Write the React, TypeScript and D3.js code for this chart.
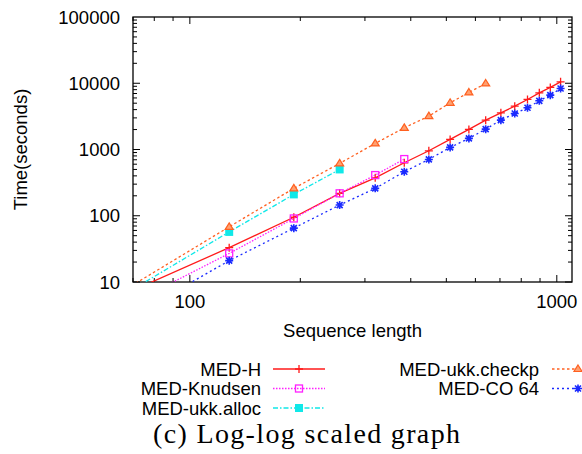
import React, { useEffect, useRef } from "react";
import * as d3 from "d3";

// sequence lengths (64 lies left of the axis and is clipped, as in the original)
const lengths = [64, 128, 192, 256, 320, 384, 448, 512, 576, 640, 704, 768, 832, 896, 960, 1024];
const medH = [6, 33, 95, 218, 374, 631, 956, 1420, 2010, 2775, 3580, 4515, 5690, 7165, 8650, 10500];
const medKnudsen = [3.8, 27, 91, 218, 411, 717];
const medUkkAlloc = [5.8, 57, 210, 500];
const medUkkCheckp = [6.7, 68, 259, 617, 1236, 2125, 3190, 5070, 7260, 9930];
const medCO64 = [2.35, 21, 65, 145, 259, 461, 708, 1075, 1470, 2030, 2775, 3500, 4260, 5430, 6610, 8340];

const yTicks = [10, 100, 1000, 10000, 100000];
const xTicks = [100, 1000];

const series = [
  { name: "MED-H", values: medH, color: "#ff1a1a", dash: null, marker: "plus", col: 0, row: 0 },
  { name: "MED-Knudsen", values: medKnudsen, color: "#ff20ff", dash: "1.5,1.5", marker: "square", col: 0, row: 1 },
  { name: "MED-ukk.alloc", values: medUkkAlloc, color: "#10e8e8", dash: "5,2,1.5,2", marker: "fsquare", col: 0, row: 2 },
  { name: "MED-ukk.checkp", values: medUkkCheckp, color: "#ff6020", dash: "2.5,2.5", marker: "triangle", col: 1, row: 0 },
  { name: "MED-CO 64", values: medCO64, color: "#1a2aff", dash: "2,3", marker: "star", col: 1, row: 1 },
];

const W = 582, H = 454;
const left = 133, right = 572, top = 17, bottom = 282;

function drawMarker(g, kind, x, y, color) {
  if (kind === "plus") {
    g.append("path").attr("d", `M${x - 4},${y}H${x + 4}M${x},${y - 4}V${y + 4}`)
      .attr("stroke", color).attr("stroke-width", 1.3);
  } else if (kind === "square") {
    g.append("rect").attr("x", x - 3.5).attr("y", y - 3.5).attr("width", 7).attr("height", 7)
      .attr("fill", "none").attr("stroke", color).attr("stroke-width", 1.3);
  } else if (kind === "fsquare") {
    g.append("rect").attr("x", x - 4).attr("y", y - 4).attr("width", 8).attr("height", 8)
      .attr("fill", color);
  } else if (kind === "triangle") {
    g.append("path").attr("d", `M${x},${y - 4}L${x + 4},${y + 2.5}L${x - 4},${y + 2.5}Z`)
      .attr("fill", "#ffa070").attr("stroke", color).attr("stroke-width", 1.2);
  } else if (kind === "star") {
    g.append("path")
      .attr("d", `M${x - 4},${y}H${x + 4}M${x},${y - 4}V${y + 4}M${x - 3},${y - 3}L${x + 3},${y + 3}M${x - 3},${y + 3}L${x + 3},${y - 3}`)
      .attr("stroke", color).attr("stroke-width", 1.6);
  }
}

export default function App() {
  const svgRef = useRef(null);

  useEffect(() => {
    const svg = d3.select(svgRef.current);
    svg.selectAll("*").remove();
    const font = "'Liberation Sans', Arial, Helvetica, sans-serif";

    const x = d3.scaleLog().domain([70, 1100]).range([left, right]);
    const y = d3.scaleLog().domain([10, 100000]).range([bottom, top]);

    svg.append("defs").append("clipPath").attr("id", "plotclip")
      .append("rect").attr("x", left).attr("y", top).attr("width", right - left).attr("height", bottom - top);

    const axes = svg.append("g").attr("stroke", "#000").attr("stroke-width", 1);

    // y ticks (major + minor) on both sides
    for (let d = 10; d < 100000; d *= 10) {
      for (let k = 1; k < 10; k++) {
        const v = d * k;
        const py = y(v);
        const len = k === 1 ? 7 : 4;
        axes.append("line").attr("x1", left).attr("x2", left + len).attr("y1", py).attr("y2", py);
        axes.append("line").attr("x1", right).attr("x2", right - len).attr("y1", py).attr("y2", py);
      }
    }
    // x ticks
    const xt = [70, 80, 90, 100, 200, 300, 400, 500, 600, 700, 800, 900, 1000];
    xt.forEach(v => {
      const px = x(v);
      const len = xTicks.includes(v) ? 7 : 4;
      axes.append("line").attr("x1", px).attr("x2", px).attr("y1", bottom).attr("y2", bottom - len);
      axes.append("line").attr("x1", px).attr("x2", px).attr("y1", top).attr("y2", top + len);
    });

    axes.append("rect").attr("x", left).attr("y", top).attr("width", right - left).attr("height", bottom - top)
      .attr("fill", "none").attr("stroke-width", 1.3);

    // tick labels
    svg.append("g").selectAll("text").data(yTicks).join("text")
      .attr("x", left - 13).attr("y", d => y(d) + 6.5)
      .attr("text-anchor", "end").attr("font-family", font).attr("font-size", 18.5)
      .text(d => String(d));
    svg.append("g").selectAll("text").data(xTicks).join("text")
      .attr("x", d => x(d)).attr("y", 308)
      .attr("text-anchor", "middle").attr("font-family", font).attr("font-size", 18.5)
      .text(d => String(d));

    svg.append("text").attr("x", (left + right) / 2).attr("y", 337).attr("text-anchor", "middle")
      .attr("font-family", font).attr("font-size", 18.5).text("Sequence length");
    svg.append("text").attr("transform", `translate(27,${(top + bottom) / 2}) rotate(-90)`)
      .attr("text-anchor", "middle").attr("font-family", font).attr("font-size", 18.5).text("Time(seconds)");

    // data
    const plot = svg.append("g").attr("clip-path", "url(#plotclip)");
    const line = d3.line().x(d => x(d[0])).y(d => y(d[1]));
    series.forEach(s => {
      const pts = s.values.map((v, i) => [lengths[i], v]);
      plot.append("path").attr("d", line(pts)).attr("fill", "none")
        .attr("stroke", s.color).attr("stroke-width", 1.3)
        .attr("stroke-dasharray", s.dash);
      const mg = plot.append("g");
      pts.forEach(p => drawMarker(mg, s.marker, x(p[0]), y(p[1]), s.color));
    });

    // legend
    const lg = svg.append("g");
    series.forEach(s => {
      const textX = s.col === 0 ? 261 : 539;
      const lx = s.col === 0 ? 273 : 552;
      const ly = 369 + s.row * 19.5;
      lg.append("text").attr("x", textX).attr("y", ly + 6.5).attr("text-anchor", "end")
        .attr("font-family", font).attr("font-size", 18.5).text(s.name);
      lg.append("line").attr("x1", lx).attr("x2", lx + 52).attr("y1", ly).attr("y2", ly)
        .attr("stroke", s.color).attr("stroke-width", 1.3).attr("stroke-dasharray", s.dash);
      drawMarker(lg, s.marker, lx + 26, ly, s.color);
    });

    svg.append("text").attr("x", 153).attr("y", 443)
      .attr("font-family", "'Liberation Serif', 'Times New Roman', serif").attr("font-size", 28)
      .attr("textLength", 307).attr("lengthAdjust", "spacing")
      .text("(c) Log-log scaled graph");
  }, []);

  return (
    <div style={{ position: "absolute", left: 0, top: 0 }}>
      <svg ref={svgRef} width={W} height={H} style={{ display: "block", background: "#fff" }}></svg>
    </div>
  );
}
